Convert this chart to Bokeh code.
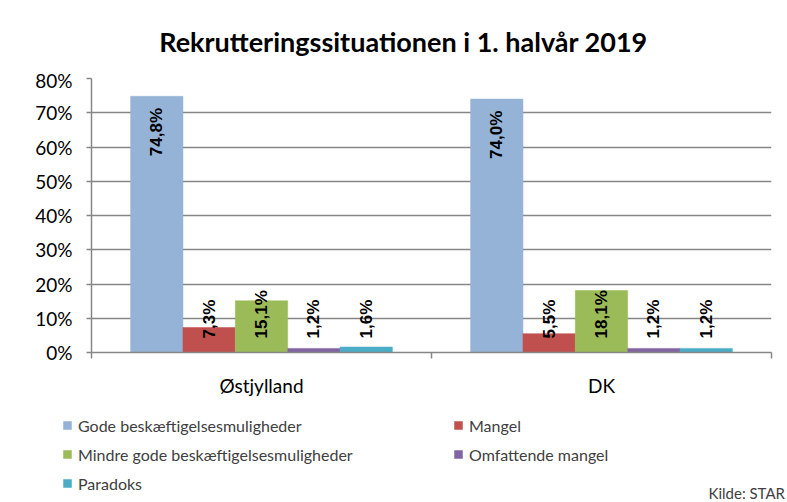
from math import pi
from bokeh.plotting import figure
from bokeh.layouts import column
from bokeh.models import (Range1d, LinearAxis, FixedTicker, PrintfTickFormatter, Legend,
                          LegendItem, Label, ColumnDataSource)
from bokeh.embed import file_html
from bokeh.resources import INLINE
from bokeh.core.properties import value

# ---------------- data ----------------
regions = ["Østjylland", "DK"]
series = ["Gode beskæftigelsesmuligheder", "Mangel",
          "Mindre gode beskæftigelsesmuligheder", "Omfattende mangel", "Paradoks"]
gode = [74.8, 74.0]
mangel = [7.3, 5.5]
mindre_gode = [15.1, 18.1]
omfattende = [1.2, 1.2]
paradoks = [1.6, 1.2]
y_ticks = [0, 10, 20, 30, 40, 50, 60, 70, 80]
title_text = "Rekrutteringssituationen i 1. halvår 2019"
source_text = "Kilde: STAR"

values = [gode, mangel, mindre_gode, omfattende, paradoks]
colors = ["#95b3d7", "#c0504d", "#9bbb59", "#8064a2", "#4bacc6"]

W = 787
LEFT = 91
grid_col = "#868686"


def bare(h):
    f = figure(width=W, height=h, x_range=Range1d(0, 1), y_range=Range1d(0, 1),
               output_backend="svg", toolbar_location=None, x_axis_location=None,
               y_axis_location=None, min_border=0)
    f.outline_line_color = None
    f.xgrid.visible = False
    f.ygrid.visible = False
    return f


tf = bare(68)
lf = bare(94)

# ---------------- main chart ----------------
n = len(regions)
p = figure(x_range=Range1d(0, n), y_range=Range1d(0, 80), width=W, height=340,
           output_backend="svg", toolbar_location=None, x_axis_location=None,
           min_border_left=LEFT, min_border_right=16, min_border_top=10,
           min_border_bottom=56)
p.outline_line_color = None
p.xgrid.visible = False
p.ygrid.grid_line_color = grid_col
p.ygrid.grid_line_width = 1.5
p.ygrid.ticker = FixedTicker(ticks=y_ticks)

# stop the column from aligning the frames of the three strips
xo = 0
if "frame_align" in p.properties():
    for f in (tf, p, lf):
        f.frame_align = False
else:
    xo = LEFT

ya = p.yaxis[0]
ya.ticker = FixedTicker(ticks=y_ticks)
ya.formatter = PrintfTickFormatter(format="%d%%")
ya.axis_line_color = grid_col
ya.axis_line_width = 1.5
ya.major_tick_line_color = grid_col
ya.major_tick_line_width = 1.5
ya.major_tick_out = 5
ya.major_tick_in = 0
ya.minor_tick_line_color = None
ya.major_label_standoff = 14
ya.major_label_text_font = "Lato"
ya.major_label_text_font_size = "19px"
ya.major_label_text_color = "#000000"

# category axis: labels at the centres, tick marks at the category boundaries
centers = [k + 0.5 for k in range(n)]
xa = LinearAxis(ticker=FixedTicker(ticks=centers, minor_ticks=list(range(n + 1))),
                major_label_overrides={c: r for c, r in zip(centers, regions)},
                axis_line_color=grid_col, axis_line_width=1.5,
                major_tick_line_color=None, major_tick_out=0, major_tick_in=0,
                minor_tick_line_color=grid_col, minor_tick_line_width=1.5,
                minor_tick_out=6, minor_tick_in=0,
                major_label_standoff=15, major_label_text_font="Lato",
                major_label_text_font_size="19px", major_label_text_color="#000000")
p.add_layout(xa, "below")

bw = 0.154
items = []
for i, (name, vals, col) in enumerate(zip(series, values, colors)):
    off = (i - 2) * bw
    xs = [c + off for c in centers]
    src = ColumnDataSource(dict(x=xs, v=vals))
    p.vbar(x="x", top="v", width=bw, source=src, fill_color=col,
           line_color=col, line_width=0.5)
    # hidden twin in the legend strip, only used to draw the legend swatch
    twin = lf.vbar(x="x", top="v", width=bw, source=src, fill_color=col,
                   line_color=col, line_width=0.5, visible=False)
    items.append(LegendItem(label=name, renderers=[twin]))
    lab = [("%.1f" % v).replace(".", ",") + "%" for v in vals]
    big = [k for k, v in enumerate(vals) if v > 30]
    small = [k for k, v in enumerate(vals) if v <= 30]
    common = dict(angle=pi / 2, text_baseline="middle",
                  text_font=value("Liberation Sans"), text_font_size="17px",
                  text_font_style="bold", text_color="#000000")
    if big:
        s1 = ColumnDataSource(dict(x=[xs[k] for k in big],
                                   y=[vals[k] - 3.4 for k in big],
                                   t=[lab[k] for k in big]))
        p.text(x="x", y="y", text="t", source=s1, text_align="right", **common)
    if small:
        s2 = ColumnDataSource(dict(x=[xs[k] for k in small],
                                   y=[4.1 for k in small],
                                   t=[lab[k] for k in small]))
        p.text(x="x", y="y", text="t", source=s2, text_align="left", **common)

tf.add_layout(Label(x=403 - xo, y=27, x_units="screen", y_units="screen", text=title_text,
                    text_align="center", text_baseline="middle", text_font="Lato",
                    text_font_size="27px", text_font_style="bold", text_color="#000000"))

leg = Legend(items=items, location=(62 - xo, 9), orientation="horizontal", ncols=2,
             border_line_color=None, background_fill_alpha=0, glyph_width=10,
             glyph_height=10, label_standoff=6, spacing=9, padding=0, margin=0,
             label_width=366, label_height=20, inactive_fill_alpha=0,
             label_text_font="Lato", label_text_font_size="16px",
             label_text_color="#404040")
lf.add_layout(leg)
lf.add_layout(Label(x=708 - xo, y=10, x_units="screen", y_units="screen", text=source_text,
                    text_align="left", text_baseline="middle", text_font="Lato",
                    text_font_size="15px", text_color="#404040"))

layout = column(tf, p, lf, spacing=0)
open("out.html", "w").write(file_html(layout, INLINE))
